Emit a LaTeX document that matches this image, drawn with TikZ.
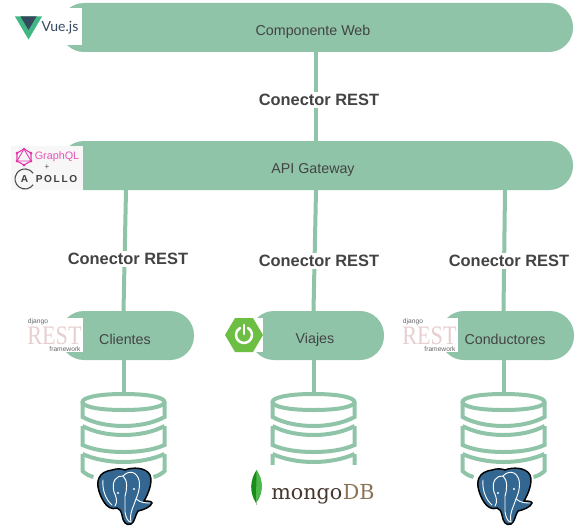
\documentclass[tikz,border=0pt]{standalone}
\usepackage{graphicx}
\usepackage{fontspec}
\setmainfont{Liberation Sans}
\newfontfamily\logoserif{Liberation Serif}
\newfontfamily\logoslab{DejaVu Serif}
\newfontfamily\logosans{Lato}
\usetikzlibrary{calc}
\definecolor{bargreen}{HTML}{8FC4A8}
\definecolor{inktext}{HTML}{434343}
\definecolor{pgblue}{HTML}{336791}
\definecolor{vuegreen}{HTML}{41B883}
\definecolor{vuedark}{HTML}{35495E}
\definecolor{gqlpink}{HTML}{E535AB}
\definecolor{springgreen}{HTML}{6CBF43}
\definecolor{restpink}{HTML}{E8CFCF}
\definecolor{mongodark}{HTML}{46362E}
\definecolor{mongotan}{HTML}{8C7355}
\tikzset{
  bar/.style={fill=bargreen,draw=none,rounded corners=24pt*0.75,minimum height=49*0.75pt,inner sep=0pt},
  bartext/.style={font=\fontsize{10.7pt}{12pt}\selectfont,text=inktext,inner sep=0pt},
  conn/.style={draw=bargreen,line width=3pt},
  connlabel/.style={font=\fontsize{12.3pt}{14pt}\selectfont\bfseries,text=inktext,fill=white,inner xsep=0pt,inner ysep=1.5pt},
  dbline/.style={draw=bargreen,line width=3pt,line cap=butt},
}
\newcommand{\dbicon}[1]{%
  \begin{scope}[shift={(#1,0)}]
    \draw[dbline] (0,394) .. controls (-28,394) and (-41,398) .. (-41,402) .. controls (-41,406) and (-28,410) .. (0,410)
       .. controls (28,410) and (41,406) .. (41,402) .. controls (41,398) and (28,394) .. (0,394) -- cycle;
    \draw[dbline] (-41,402) -- (-41,417) .. controls (-30,423) and (-15,426) .. (0,426) .. controls (15,426) and (30,423) .. (41,417) -- (41,402);
    \draw[dbline] (-41,426) -- (-41,445) .. controls (-30,450) and (-15,452) .. (0,452) .. controls (15,452) and (30,450) .. (41,445) -- (41,426);
    \draw[dbline] (-41,426) .. controls (-30,432) and (-15,435) .. (0,435) .. controls (15,435) and (30,432) .. (41,426);
    \draw[dbline] (-41,454) .. controls (-30,459) and (-15,462) .. (0,462) .. controls (15,462) and (30,459) .. (41,454);
    \draw[dbline] (-41,454) -- (-41,471) .. controls (-38,474) and (-34,476) .. (-30,477);
    \draw[dbline] (41,454) -- (41,471) .. controls (38,474) and (34,476) .. (30,477);
  \end{scope}}
\newcommand{\pgicon}[1]{%
  \begin{scope}[shift={(#1,0)}]
    \draw[black,line width=1.1pt,fill=pgblue]
      (112,470) .. controls (118,468) and (122,469) .. (125,470)
      .. controls (132,467) and (146,467) .. (150,475)
      .. controls (153,483) and (148,494) .. (144,501)
      .. controls (147,502) and (151,500) .. (152,503)
      .. controls (151,507) and (143,510) .. (138,511)
      .. controls (135,515) and (135,522) .. (131,524)
      .. controls (126,526) and (123,522) .. (122,515)
      .. controls (121,511) and (120,509) .. (117,508)
      .. controls (112,510) and (107,507) .. (104,502)
      .. controls (99,494) and (96,484) .. (99,478)
      .. controls (101,473) and (106,471) .. (112,470) -- cycle;
    \draw[white,line width=0.7pt,line cap=round] (115,506) .. controls (118,502) and (116,496) .. (114,492) .. controls (111,481) and (117,475) .. (123,476) .. controls (128,480) and (127,490) .. (125,496) -- (125,512) .. controls (126,518) and (128,522) .. (131,522);
    \draw[white,line width=0.7pt,line cap=round] (131,522) .. controls (129,513) and (134,506) .. (136,499) .. controls (140,490) and (142,478) .. (134,473) .. controls (130,471) and (126,473) .. (123,476);
    \draw[white,line width=0.7pt,line cap=round] (136,499) .. controls (141,503) and (146,503) .. (150,503);
    \draw[white,line width=0.7pt,line cap=round] (103,480) .. controls (102,490) and (106,500) .. (112,505);
    \fill[white] (118,493) circle[radius=1.2] (134,489) circle[radius=1.2];
  \end{scope}}
\newcommand{\resticon}[1]{%
  \begin{scope}[shift={(#1,0)}]
    \fill[white] (28,318) rectangle (83,352);
    \node[inner sep=0pt,text=restpink,font=\logoserif\fontsize{20pt}{20pt}\selectfont] at (54.5,335.5) {\scalebox{0.83}[1]{REST}};
    \node[inner sep=0pt,text=black!60,font=\fontsize{5pt}{6pt}\selectfont] at (38,322) {django};
    \node[inner sep=0pt,text=black!60,font=\fontsize{5pt}{6pt}\selectfont] at (65,349) {framework};
  \end{scope}}
\begin{document}
\begin{tikzpicture}[x=0.75pt,y=-0.75pt]
\useasboundingbox (0,0) rectangle (580,528);
% bars
\node[bar,minimum width=513*0.75pt] (web) at (316.5,27.5) {};
\node[bar,minimum width=513*0.75pt] (api) at (316.5,165.5) {};
\node[bar,minimum width=134*0.75pt] (cli) at (127,335.5) {};
\node[bar,minimum width=134*0.75pt] (via) at (317,335.5) {};
\node[bar,minimum width=134*0.75pt] (con) at (507,335.5) {};
% named ends
\coordinate (webB) at (316,52);
\coordinate (apiT) at (316,141);
\coordinate (apiA) at (126,190);
\coordinate (apiB) at (316,190);
\coordinate (apiC) at (505,190);
\coordinate (cliT) at (123.5,311);
\coordinate (viaT) at (313.5,311);
\coordinate (conT) at (503.5,311);
\coordinate (cliB) at (123.5,360);
\coordinate (viaB) at (313.5,360);
\coordinate (conB) at (503.5,360);
\coordinate (db1) at (123.5,393);
\coordinate (db2) at (313.5,393);
\coordinate (db3) at (503.5,393);
% connectors
\draw[conn] (webB) -- (apiT);
\draw[conn] (apiA) -- (cliT);
\draw[conn] (apiB) -- (viaT);
\draw[conn] (apiC) -- (conT);
\draw[conn] (cliB) -- (db1);
\draw[conn] (viaB) -- (db2);
\draw[conn] (conB) -- (db3);
% connector labels
\node[connlabel] (l1) at (319,100) {Conector REST};
\node[connlabel] (l2) at (128,259) {Conector REST};
\node[connlabel] (l3) at (319,261) {Conector REST};
\node[connlabel] (l4) at (509,261) {Conector REST};
% bar texts
\node[bartext] (t1) at (313,32) {Componente Web};
\node[bartext] (t2) at (313,169.5) {API Gateway};
\node[bartext] (t3) at (125,339.5) {Clientes};
\node[bartext] (t4) at (315,340) {Viajes};
\node[bartext] (t5) at (505,339.5) {Conductores};
% databases
\dbicon{123.5}
\dbicon{313.5}
\dbicon{503.5}
\pgicon{0}
\pgicon{380}
% Vue logo
\fill[white] (15,8) rectangle (82,45);
\fill[vuegreen] (15,16.5) -- (42,16.5) -- (28.5,39.5) -- cycle;
\fill[vuedark] (20.5,16.5) -- (36.5,16.5) -- (28.5,30) -- cycle;
\node[inner sep=0pt,text=vuedark,font=\logosans\fontsize{10.5pt}{12pt}\selectfont] (vue) at (60,28) {Vue.js};
% GraphQL + Apollo
\fill[black!3] (11,146) rectangle (83,190);
\draw[gqlpink,line width=0.8pt] (24,149) -- (31,153) -- (31,161) -- (24,165) -- (17,161) -- (17,153) -- cycle;
\draw[gqlpink,line width=0.6pt] (24,149) -- (31,161) -- (17,161) -- cycle;
\foreach \px/\py in {24/149,31/153,31/161,24/165,17/161,17/153} \fill[gqlpink] (\px,\py) circle[radius=1.5];
\node[inner sep=0pt,text=gqlpink!85,font=\fontsize{8.1pt}{10pt}\selectfont] (gql) at (57,156.5) {GraphQL};
\node[inner sep=0pt,text=black!70,font=\fontsize{6pt}{7pt}\selectfont] (plus) at (47,167) {+};
\draw[black!70,line width=0.8pt] (33.2,184.7) arc[start angle=35,end angle=325,radius=10];
\node[inner sep=0pt,text=black!75,font=\fontsize{7.6pt}{10pt}\selectfont\bfseries] (apo) at (24.5,179) {A};
\node[inner sep=0pt,text=black!75,font=\fontsize{7.6pt}{10pt}\selectfont\bfseries] (apo2) at (56.5,179) {\addfontfeatures{LetterSpace=16}POLLO};
% REST logos
\resticon{0}
\resticon{375}
% Spring
\fill[white] (245,318) rectangle (263,352);
\fill[springgreen] (225,335) -- (235,318) -- (253,318) -- (263,335) -- (253,352) -- (235,352) -- cycle;
\draw[white,line width=1.9pt,line cap=round] (248,328) arc[start angle=-60,end angle=240,radius=8];
\draw[white,line width=1.9pt,line cap=round] (244,325) -- (244,334);
% Mongo logo
\fill[white] (240,465) rectangle (385,512);
\fill[green!50!black!90] (256.5,470) .. controls (250,480) and (249,492) .. (256,503) .. controls (264,492) and (263,480) .. (256.5,470) -- cycle;
\fill[green!60!black!70] (256.5,470) .. controls (263,480) and (264,492) .. (256,503) -- cycle;
\draw[black!30,line width=0.5pt] (256,503) -- (256,505);
\node[inner sep=0pt,anchor=base west,text=mongodark,font=\logoslab\fontsize{15.5pt}{17pt}\selectfont] (mg) at (271,499) {mongo};
\node[inner sep=0pt,anchor=base west,text=mongotan,font=\logoslab\fontsize{15.5pt}{17pt}\selectfont] (db) at (mg.base east) {DB};
\end{tikzpicture}
\end{document}
